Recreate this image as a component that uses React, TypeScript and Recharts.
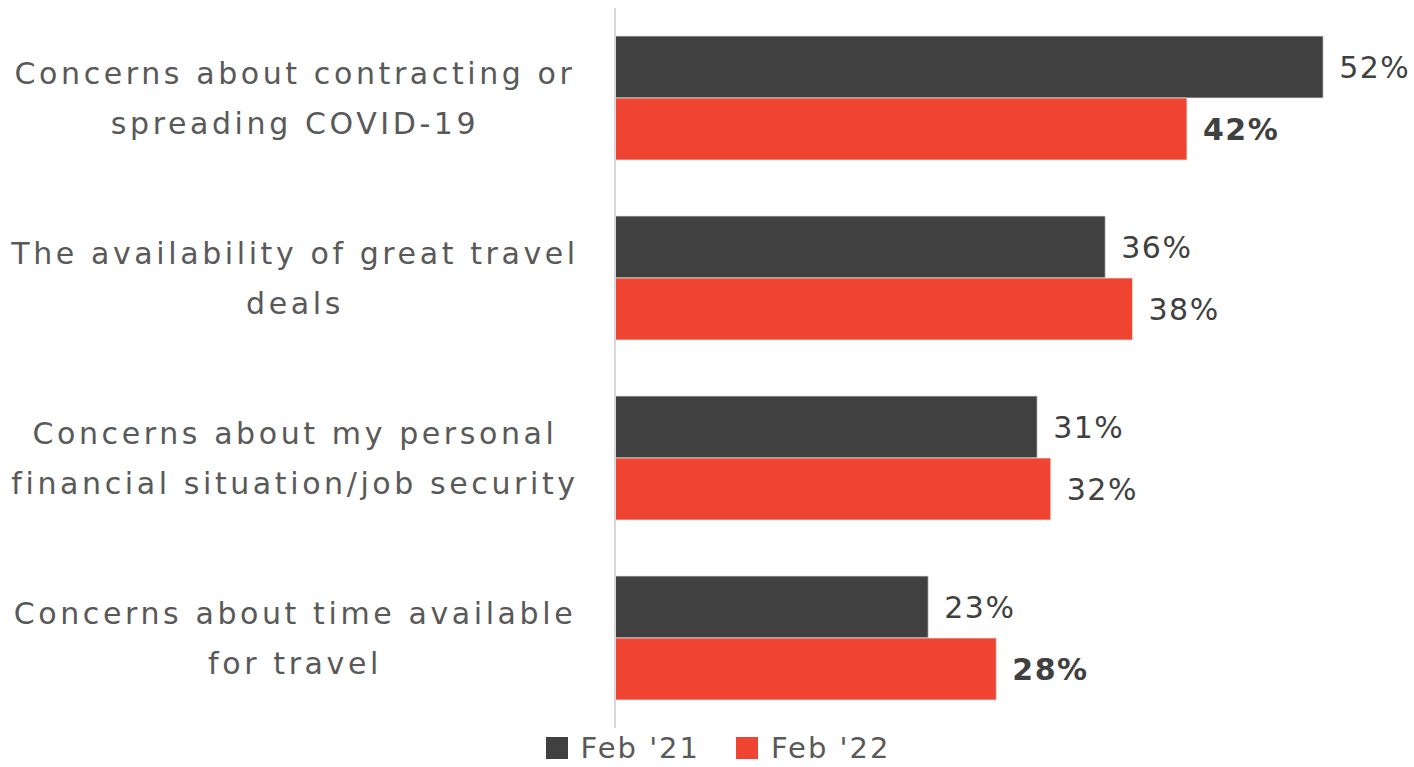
import React from 'react';
import { BarChart, Bar, XAxis, YAxis, LabelList, Legend } from 'recharts';

const categoryLines: string[][] = [
  ['Concerns about contracting or', 'spreading COVID-19'],
  ['The availability of great travel', 'deals'],
  ['Concerns about my personal', 'financial situation/job security'],
  ['Concerns about time available', 'for travel'],
];
const feb21Values = [52, 36, 31, 23];
const feb22Values = [42, 38, 32, 28];
const feb21Bold = [false, false, false, false];
const feb22Bold = [true, false, false, true];
const seriesNames = ["Feb '21", "Feb '22"];
const seriesColors = ['#404040', '#EE4431'];

const data = categoryLines.map((lines, i) => ({
  name: lines.join('\n'),
  feb21: feb21Values[i],
  feb22: feb22Values[i],
}));

const FONT = "'DejaVu Sans', sans-serif";
const TEXT = '#595959';

const CategoryTick = (props: any) => {
  const { y, payload } = props;
  const lines = String(payload.value).split('\n');
  const lh = 50;
  const start = -((lines.length - 1) * lh) / 2;
  return (
    <text
      x={295}
      y={y}
      textAnchor="middle"
      fill={TEXT}
      fontFamily={FONT}
      fontSize={30}
      letterSpacing={3.6}
    >
      {lines.map((l, i) => (
        <tspan key={i} x={295} y={y + start + i * lh} dominantBaseline="central">
          {l}
        </tspan>
      ))}
    </text>
  );
};

const makeLabel = (boldFlags: boolean[]) => (props: any) => {
  const { x, y, width, height, value, index } = props;
  return (
    <text
      x={x + width + 16}
      y={y + height / 2}
      dominantBaseline="central"
      fill="#404040"
      fontFamily={FONT}
      fontSize={30}
      fontWeight={boldFlags[index] ? 'bold' : 'normal'}
      letterSpacing={1.5}
    >
      {`${value}%`}
    </text>
  );
};

const LegendContent = () => (
  <div
    style={{
      display: 'flex',
      justifyContent: 'center',
      alignItems: 'center',
      height: 39,
      fontFamily: FONT,
      fontSize: 29,
      color: TEXT,
      paddingLeft: 72,
    }}
  >
    {seriesNames.map((n, i) => (
      <div key={n} style={{ display: 'flex', alignItems: 'center', marginRight: i === 0 ? 36 : 0 }}>
        <div style={{ width: 22, height: 22, background: seriesColors[i], marginRight: 13 }} />
        <span style={{ letterSpacing: 2 }}>{n}</span>
      </div>
    ))}
  </div>
);

export default function App() {
  return (
    <div style={{ position: 'absolute', left: 0, top: 0, background: '#fff' }}>
      <BarChart
        width={1414}
        height={767}
        data={data}
        layout="vertical"
        margin={{ top: 8, right: 50, bottom: 0, left: 0 }}
        barCategoryGap={28}
        barGap={0}
      >
        <XAxis type="number" domain={[0, 55]} hide />
        <YAxis
          type="category"
          dataKey="name"
          width={615}
          axisLine={{ stroke: '#d9d9d9', strokeWidth: 2 }}
          tickLine={false}
          tick={<CategoryTick />}
          interval={0}
        />
        <Legend verticalAlign="bottom" content={<LegendContent />} />
        <Bar dataKey="feb21" name={seriesNames[0]} fill={seriesColors[0]} stroke="#e6e6e6" strokeWidth={0.75} isAnimationActive={false}>
          <LabelList dataKey="feb21" content={makeLabel(feb21Bold)} />
        </Bar>
        <Bar dataKey="feb22" name={seriesNames[1]} fill={seriesColors[1]} stroke="#e6e6e6" strokeWidth={0.75} isAnimationActive={false}>
          <LabelList dataKey="feb22" content={makeLabel(feb22Bold)} />
        </Bar>
      </BarChart>
    </div>
  );
}
